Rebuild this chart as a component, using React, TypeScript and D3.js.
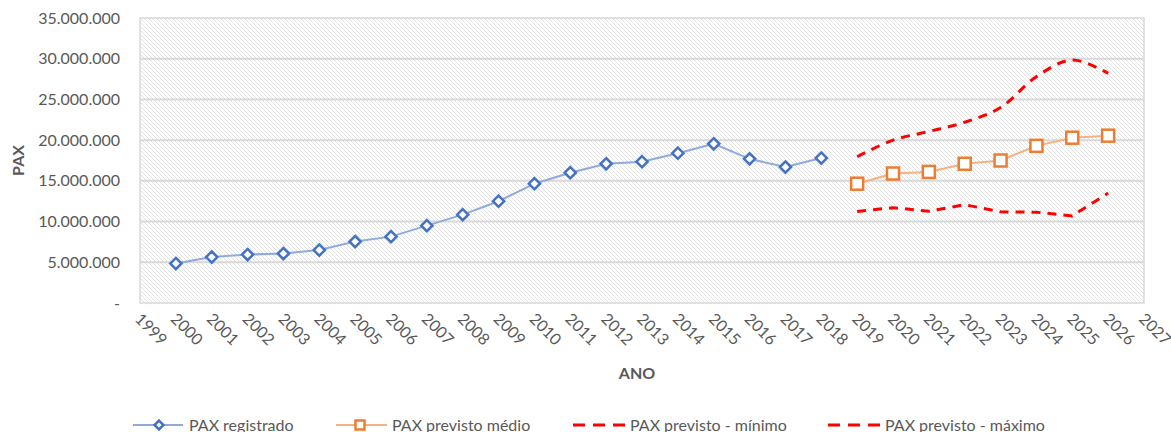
import * as d3 from "d3";
import React from "react";

const WIDTH = 1171;
const HEIGHT = 432;
const MARGIN = { top: 18, right: 27, bottom: 129, left: 140 };

const yearsReg = [2000, 2001, 2002, 2003, 2004, 2005, 2006, 2007, 2008, 2009, 2010, 2011, 2012, 2013, 2014, 2015, 2016, 2017, 2018];
const paxReg = [4850000, 5640000, 5950000, 6070000, 6500000, 7540000, 8150000, 9500000, 10850000, 12500000, 14650000, 16000000, 17100000, 17350000, 18400000, 19550000, 17700000, 16700000, 17800000];

const yearsPrev = [2019, 2020, 2021, 2022, 2023, 2024, 2025, 2026];
const paxMedio = [14650000, 15900000, 16100000, 17100000, 17500000, 19300000, 20300000, 20550000];
const paxMin = [11250000, 11700000, 11280000, 12070000, 11200000, 11150000, 10700000, 13500000];
const paxMax = [17960000, 20000000, 21060000, 22200000, 24000000, 27800000, 29850000, 28200000];

const yTicks = [0, 5000000, 10000000, 15000000, 20000000, 25000000, 30000000, 35000000];
const xTicks = d3.range(1999, 2028);

const FONT = "Lato, 'Open Sans', sans-serif";
const TEXT = "#595959";
const GRID = "#d9d9d9";

const fmt = (v: number) =>
  v === 0 ? "-" : d3.format(",")(v).replace(/,/g, ".");

const App: React.FC = () => {
  const boundsWidth = WIDTH - MARGIN.left - MARGIN.right;
  const boundsHeight = HEIGHT - MARGIN.top - MARGIN.bottom;

  const xScale = d3.scaleLinear().domain([1999, 2027]).range([0, boundsWidth]);
  const yScale = d3.scaleLinear().domain([0, 35000000]).range([boundsHeight, 0]);

  const line = d3
    .line<[number, number]>()
    .x((d) => xScale(d[0]))
    .y((d) => yScale(d[1]));
  const smooth = d3
    .line<[number, number]>()
    .x((d) => xScale(d[0]))
    .y((d) => yScale(d[1]))
    .curve(d3.curveCatmullRom.alpha(0.5));

  const reg = yearsReg.map((y, i) => [y, paxReg[i]] as [number, number]);
  const medio = yearsPrev.map((y, i) => [y, paxMedio[i]] as [number, number]);
  const min = yearsPrev.map((y, i) => [y, paxMin[i]] as [number, number]);
  const max = yearsPrev.map((y, i) => [y, paxMax[i]] as [number, number]);

  const diamond = d3.symbol(d3.symbolDiamond2, 80)() || "";
  const smallDiamond = d3.symbol(d3.symbolDiamond2, 50)() || "";

  // legend entries: x = start of the key line
  const legend = [
    { x: 133, label: "PAX registrado", kind: "reg" },
    { x: 336, label: "PAX previsto médio", kind: "med" },
    { x: 573, label: "PAX previsto - mínimo", kind: "dash" },
    { x: 828, label: "PAX previsto - máximo", kind: "dash" },
  ];
  const legY = 425;

  return (
    <svg
      width={WIDTH}
      height={HEIGHT}
      style={{ position: "absolute", left: 0, top: 0, background: "#fff" }}
      fontFamily={FONT}
    >
      <defs>
        <pattern id="hatch" width={4} height={4} patternUnits="userSpaceOnUse">
          <rect width={4} height={4} fill="#fff" />
          <path d="M-1,-1 L5,5 M-1,3 L1,5 M3,-1 L5,1" stroke="#e2e2e2" strokeWidth={1} />
        </pattern>
      </defs>
      <g transform={`translate(${MARGIN.left},${MARGIN.top})`}>
        <rect width={boundsWidth} height={boundsHeight} fill="url(#hatch)" stroke={GRID} strokeWidth={1.5} />
        {yTicks.map((t) => (
          <g key={t}>
            {t > 0 && t < 35000000 && (
              <line x1={0} x2={boundsWidth} y1={yScale(t)} y2={yScale(t)} stroke={GRID} strokeWidth={2} />
            )}
            <text
              x={-20}
              y={yScale(t)}
              dy="0.35em"
              textAnchor="end"
              fontSize={16}
              fill={TEXT}
            >
              {fmt(t)}
            </text>
          </g>
        ))}
        {xTicks.map((t) => (
          <text
            key={t}
            transform={`translate(${xScale(t) - 6},${boundsHeight + 17}) rotate(45)`}
            fontSize={16}
            fill={TEXT}
          >
            {t}
          </text>
        ))}

        <path d={line(reg) || ""} fill="none" stroke="#8faadc" strokeWidth={2} />
        {reg.map((d) => (
          <path
            key={d[0]}
            d={diamond}
            transform={`translate(${xScale(d[0])},${yScale(d[1])})`}
            fill="#fff"
            stroke="#4472c4"
            strokeWidth={2.5}
          />
        ))}

        <path d={line(medio) || ""} fill="none" stroke="#f4b183" strokeWidth={2} />
        {medio.map((d) => (
          <rect
            key={d[0]}
            x={xScale(d[0]) - 6}
            y={yScale(d[1]) - 6}
            width={12}
            height={12}
            fill="#fff"
            stroke="#ed7d31"
            strokeWidth={2.5}
          />
        ))}

        <path d={line(min) || ""} fill="none" stroke="#ff0000" strokeWidth={3} strokeDasharray="9,7" />
        <path d={smooth(max) || ""} fill="none" stroke="#ff0000" strokeWidth={3} strokeDasharray="9,7" strokeLinejoin="round" />
      </g>

      <text
        transform={`translate(24,${MARGIN.top + boundsHeight / 2}) rotate(-90)`}
        textAnchor="middle"
        fontSize={16}
        fontWeight="bold"
        fill={TEXT}
      >
        PAX
      </text>
      <text x={637} y={379} textAnchor="middle" fontSize={16} fontWeight="bold" fill={TEXT}>
        ANO
      </text>

      {legend.map((l) => (
        <g key={l.label} transform={`translate(${l.x},${legY})`}>
          {l.kind === "reg" && (
            <>
              <line x1={0} x2={50} y1={0} y2={0} stroke="#8faadc" strokeWidth={2} />
              <path d={smallDiamond} transform="translate(26,0)" fill="#fff" stroke="#4472c4" strokeWidth={2.5} />
            </>
          )}
          {l.kind === "med" && (
            <>
              <line x1={0} x2={51} y1={0} y2={0} stroke="#f4b183" strokeWidth={2} />
              <rect x={19.5} y={-4.5} width={9} height={9} fill="#fff" stroke="#ed7d31" strokeWidth={2.5} />
            </>
          )}
          {l.kind === "dash" && (
            <line x1={0} x2={52} y1={0} y2={0} stroke="#ff0000" strokeWidth={3} strokeDasharray="12,8" />
          )}
          <text
            x={l.kind === "dash" ? 57 : 56}
            y={0}
            dy="0.35em"
            fontSize={16}
            fill={TEXT}
          >
            {l.label}
          </text>
        </g>
      ))}
    </svg>
  );
};

export default App;
